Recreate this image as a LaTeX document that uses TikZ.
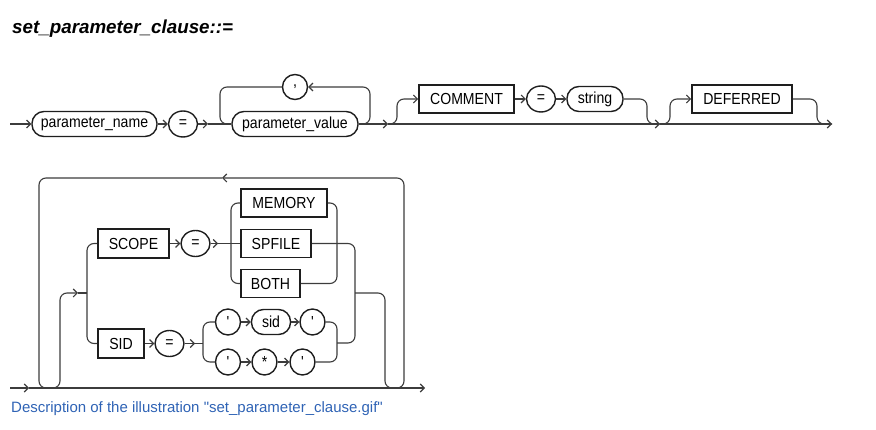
\documentclass[tikz,border=0pt]{standalone}
\usepackage{fontspec}
\setmainfont{Liberation Sans}
\newfontfamily\lblfont[FakeStretch=0.88]{Liberation Sans}
\newfontfamily\capfont[Ligatures=TeXOff]{Liberation Sans}
\usetikzlibrary{arrows.meta,shapes.geometric}
\definecolor{ln}{HTML}{3C3C3C}
\definecolor{bx}{HTML}{1E1E1E}
\definecolor{capc}{HTML}{2F63B5}
\tikzset{
  conn/.style={draw=ln, line width=1.1pt, rounded corners=7pt},
  arr/.style={conn, -{Straight Barb[length=4pt,width=8pt]}},
  lbl/.style={font=\lblfont\fontsize{16}{16}\selectfont, text=black},
  kw/.style={lbl, draw=bx, line width=1.6pt, rectangle, minimum height=28pt, inner xsep=0pt},
  term/.style={lbl, draw=bx, line width=1.4pt, rectangle, rounded corners=12pt, minimum height=25pt, inner xsep=0pt},
  sym/.style={lbl, draw=bx, line width=1.4pt, ellipse, inner sep=0pt, minimum width=29pt, minimum height=26pt},
  qsym/.style={sym, minimum width=25pt, minimum height=26pt},
}
\begin{document}
\begin{tikzpicture}[x=1pt,y=-1pt]
\useasboundingbox (0,0) rectangle (876,430);
\node[anchor=base west, inner sep=0pt, font=\fontsize{18.8}{18.8}\selectfont\bfseries\itshape] (title) at (12,34) {set\_parameter\_clause::=};

% ---------- row 1 ----------
\coordinate (s1) at (10,124);
\node[term, minimum width=125pt] (pname) at (94.5,124) {parameter\_name};
\node[sym] (eq1) at (183,124) {=};
\coordinate (a1) at (208,124);
\node[term, minimum width=126pt] (pv) at (295,124) {parameter\_value};
\node[sym, minimum width=25pt, minimum height=25pt] (comma) at (295,87) {,};
\coordinate (a2) at (388,124);
\node[kw, minimum width=95pt] (comment) at (466.5,99) {COMMENT};
\node[sym] (eq2) at (541,99) {=};
\node[term, minimum width=56pt] (str) at (595,99) {string};
\coordinate (a3) at (660,124);
\node[kw, minimum width=100pt] (def) at (742,99) {DEFERRED};
\coordinate (a4) at (832,124);

\draw[arr] (s1) -- (pname.west);
\draw[arr] (pname.east) -- (eq1.west);
\draw[arr] (eq1.east) -- (a1);
\draw[conn] (a1) -- (pv.west);
\draw[arr] (pv.east) -- (370,124) -- (370,87) -- (comma.east);
\draw[conn] (comma.west) -- (220,87) -- (220,124) -- (pv.west);
\draw[arr] (pv.east) -- (a2);
\draw[arr] (a2) -- (a3);
\draw[arr] (a3) -- (a4);
\draw[arr] (a2) -- (397,124) -- (397,99) -- (comment.west);
\draw[arr] (comment.east) -- (eq2.west);
\draw[arr] (eq2.east) -- (str.west);
\draw[conn] (str.east) -- (647,99) -- (647,124) -- (a3);
\draw[arr] (a3) -- (670,124) -- (670,99) -- (def.west);
\draw[conn] (def.east) -- (817,99) -- (817,124) -- (a4);

% ---------- row 2 ----------
\coordinate (b0) at (10,388);
\coordinate (b1) at (29,388);
\coordinate (bend) at (425,388);
\coordinate (x2) at (355,293);
\coordinate (t1) at (222,178);
\coordinate (e1) at (78,293);
\coordinate (c1) at (87,293);
\node[kw, minimum width=71pt, minimum height=29pt] (scope) at (133.5,243.5) {SCOPE};
\node[sym] (eqS) at (195.5,243.5) {=};
\coordinate (a5) at (218,243.5);
\node[kw, minimum width=86pt] (memory) at (284,203) {MEMORY};
\node[kw, minimum width=70pt] (spfile) at (276,243.5) {SPFILE};
\node[kw, minimum width=59pt] (both) at (270.5,283.5) {BOTH};
\node[kw, minimum width=46pt, minimum height=29pt] (sid) at (121,343.5) {SID};
\node[sym] (eqD) at (169.5,343.5) {=};
\coordinate (a6) at (195,343.5);
\node[qsym] (q1) at (228,322) {'};
\node[term, minimum width=39pt] (sidn) at (271,322) {sid};
\node[qsym] (q3) at (312.5,322) {'};
\node[qsym] (q4) at (228,362) {'};
\node[qsym] (star) at (264.5,362) {*};
\node[qsym] (q6) at (302.5,362) {'};

\draw[arr] (b0) -- (b1);
\draw[arr] (b1) -- (bend);
\draw[arr] (x2) -- (385,293) -- (385,388) -- (404,388) -- (404,178) -- (t1);
\draw[arr] (t1) -- (39,178) -- (39,388) -- (60,388) -- (60,293) -- (e1);
\draw[conn] (e1) -- (c1);
\draw[conn] (scope.west) -- (87,243.5) -- (87,343.5) -- (sid.west);
\draw[arr] (scope.east) -- (eqS.west);
\draw[arr] (eqS.east) -- (a5);
\draw[conn] (a5) -- (spfile.west);
\draw[conn] (memory.west) -- (231,203) -- (231,283.5) -- (both.west);
\draw[conn] (memory.east) -- (337,203) -- (337,283.5) -- (both.east);
\draw[conn] (spfile.east) -- (355,243.5) -- (355,343) -- (337,343);
\draw[arr] (sid.east) -- (eqD.west);
\draw[arr] (eqD.east) -- (a6);
\draw[conn] (a6) -- (203,343.5);
\draw[conn] (q1.west) -- (203,322) -- (203,362) -- (q4.west);
\draw[arr] (q1.east) -- (sidn.west);
\draw[arr] (sidn.east) -- (q3.west);
\draw[arr] (q4.east) -- (star.west);
\draw[arr] (star.east) -- (q6.west);
\draw[conn] (q3.east) -- (337,322) -- (337,362) -- (q6.east);

\node[anchor=base west, inner sep=0pt, font=\capfont\fontsize{15}{15}\selectfont, text=capc] (caption) at (11,413) {Description of the illustration "set\_parameter\_clause.gif"};
\end{tikzpicture}
\end{document}
